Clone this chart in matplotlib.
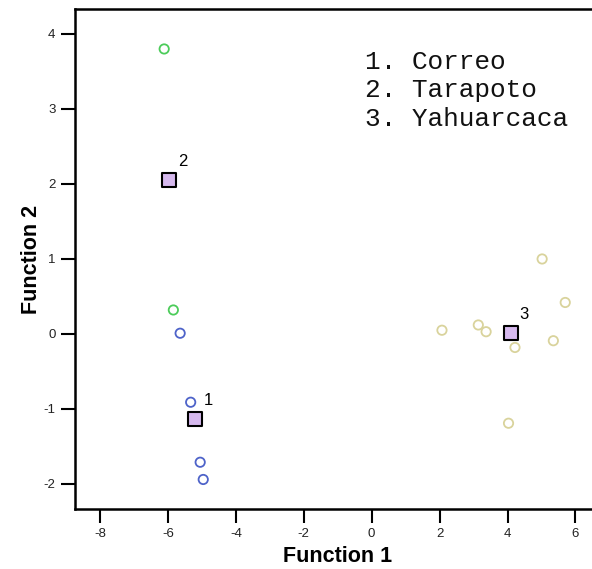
import matplotlib
matplotlib.use("Agg")
import matplotlib.pyplot as plt

plt.rcParams["font.family"] = ["Liberation Sans", "DejaVu Sans"]
plt.rcParams["axes.unicode_minus"] = False

# group cases (Function 1, Function 2)
correo_x = [-5.64, -5.33, -5.05, -4.96]
correo_y = [0.01, -0.91, -1.71, -1.94]
tarapoto_x = [-6.11, -5.84]
tarapoto_y = [3.80, 0.32]
yahuar_x = [2.07, 3.14, 3.37, 4.22, 5.35, 5.70, 4.03, 5.02]
yahuar_y = [0.05, 0.12, 0.03, -0.18, -0.09, 0.42, -1.19, 1.00]

# group centroids
cent_labels = ["1", "2", "3"]
cent_x = [-5.20, -5.96, 4.10]
cent_y = [-1.14, 2.05, 0.01]

legend_lines = ["1. Correo", "2. Tarapoto", "3. Yahuarcaca"]

fig = plt.figure(figsize=(5.92, 5.69), dpi=100)
ax = fig.add_axes([0.1267, 0.1054, 0.887, 0.878])

ax.scatter(correo_x, correo_y, s=45, facecolors="none", edgecolors="#4e63c9", linewidths=1.3, zorder=3)
ax.scatter(tarapoto_x, tarapoto_y, s=45, facecolors="none", edgecolors="#4ccc5a", linewidths=1.3, zorder=3)
ax.scatter(yahuar_x, yahuar_y, s=45, facecolors="none", edgecolors="#d9d39c", linewidths=1.3, zorder=3)
ax.scatter(cent_x, cent_y, s=115, marker="s", facecolors="#d6b9ee", edgecolors="black", linewidths=1.5, zorder=4)
for lab, cx, cy in zip(cent_labels, cent_x, cent_y):
    ax.annotate(lab, (cx, cy), xytext=(9.5, 13.5), textcoords="offset points",
                ha="center", va="center", fontsize=12)

for i, line in enumerate(legend_lines):
    ax.text(0.552, 0.8955 - i * 0.0573, line, transform=ax.transAxes,
            family="Liberation Mono", fontsize=18.8, va="center", ha="left", color="#111111")

ax.set_xlim(-8.736, 6.727)
ax.set_ylim(-2.334, 4.327)
ax.set_xticks(range(-8, 7, 2))
ax.set_yticks(range(-2, 5))
ax.tick_params(direction="out", length=10, width=1.5, labelsize=9.5, colors="black", labelcolor="#222222", pad=4)
for sp in ax.spines.values():
    sp.set_linewidth(1.8)

ax.set_xlabel("Function 1", fontsize=15.5, fontweight="bold", labelpad=4)
ax.set_ylabel("Function 2", fontsize=15.5, fontweight="bold", labelpad=1)

fig.savefig("out.png", dpi=100)
